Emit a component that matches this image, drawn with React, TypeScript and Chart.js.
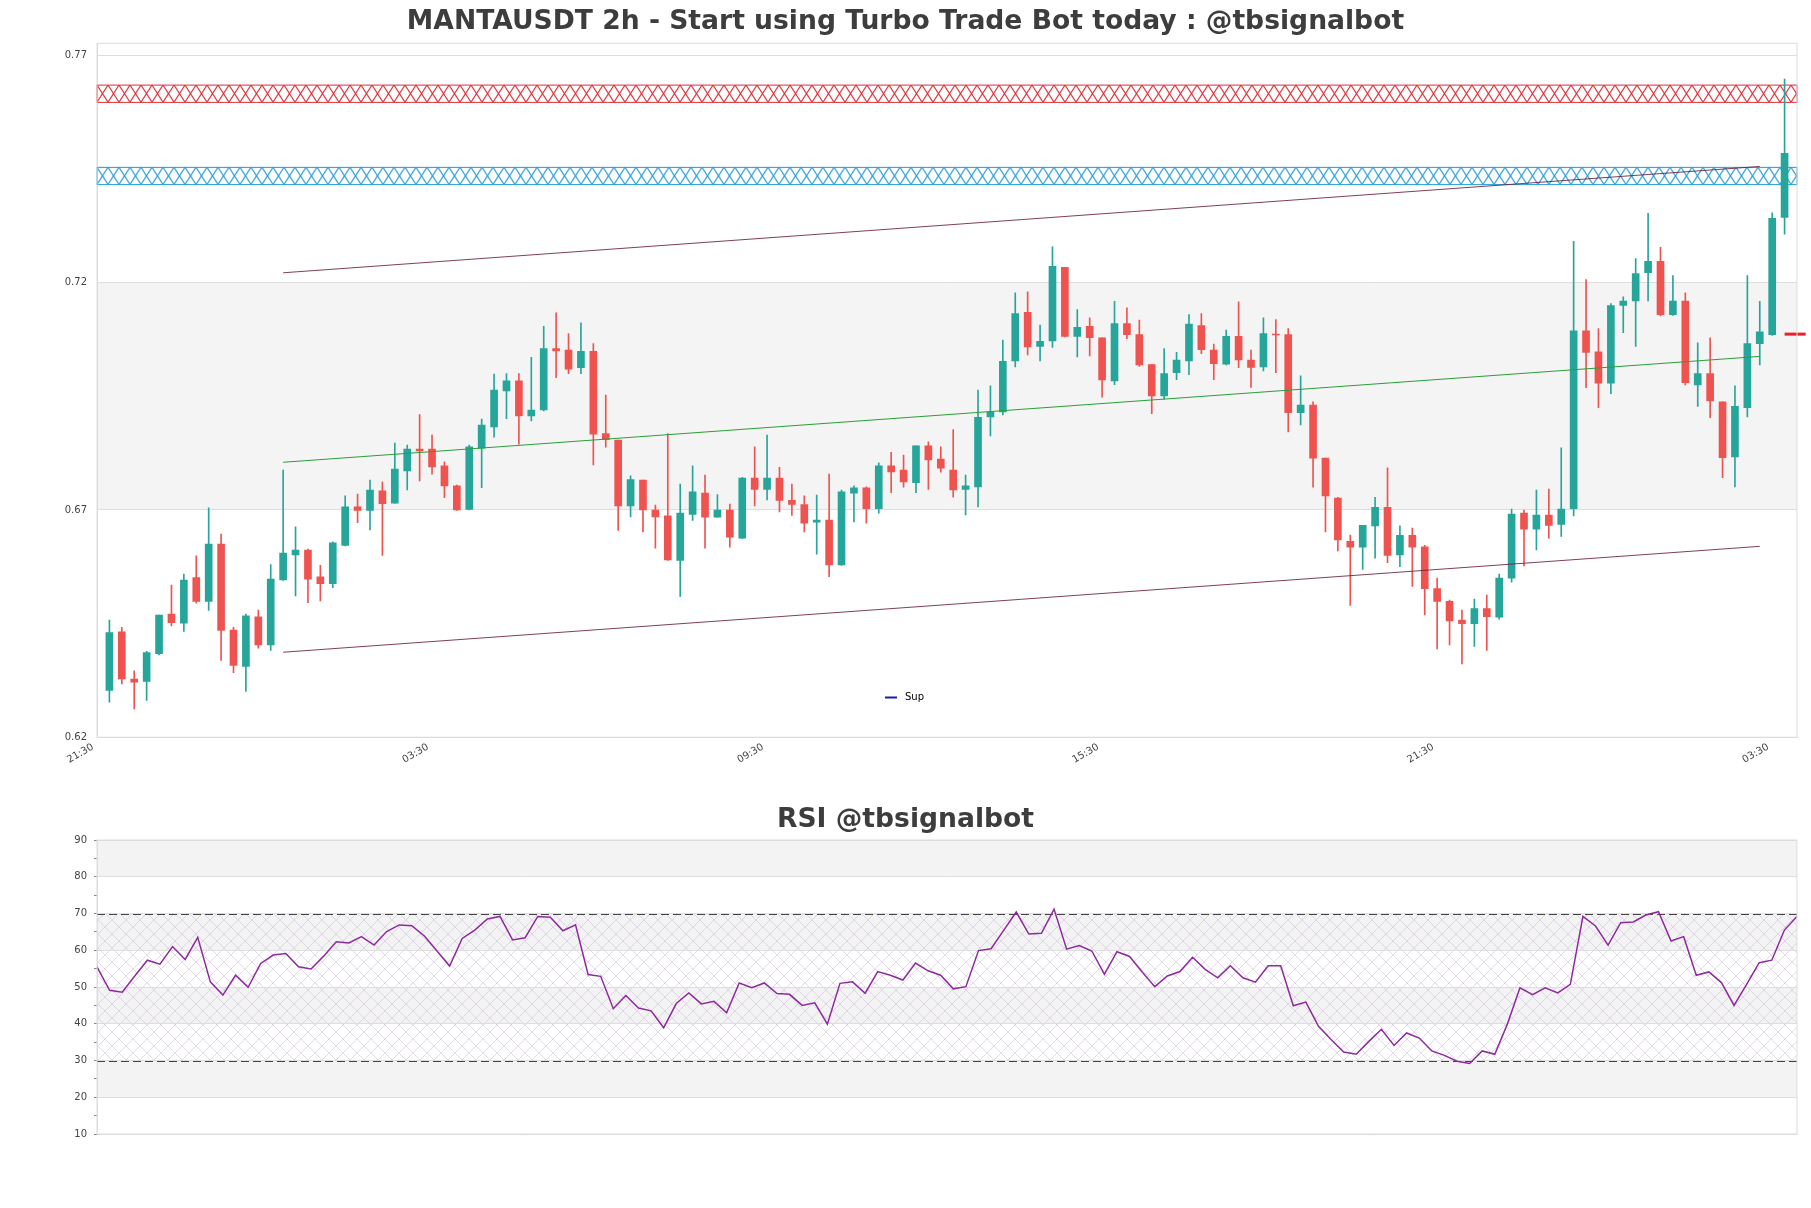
import React, { useEffect, useRef } from 'react';
import { Chart, registerables } from 'chart.js';

Chart.register(...registerables);

// ---------------- DATA ----------------
const opens = [
  0.6303, 0.6432, 0.6328, 0.6323, 0.6384, 0.6471, 0.6451, 0.6551, 0.6499, 0.6625,
  0.6436, 0.6356, 0.6465, 0.6403, 0.6546, 0.6601, 0.6612, 0.6553, 0.6538, 0.6622,
  0.6707, 0.6699, 0.6742, 0.6715, 0.6786, 0.6834, 0.6834, 0.6797, 0.6753, 0.6701,
  0.6836, 0.6883, 0.6962, 0.6984, 0.6907, 0.6920, 0.7055, 0.7052, 0.7013, 0.7049,
  0.6868, 0.6854, 0.6709, 0.6766, 0.6700, 0.6687, 0.6589, 0.6690, 0.6737, 0.6684,
  0.6700, 0.6638, 0.6770, 0.6745, 0.6770, 0.6721, 0.6712, 0.6673, 0.6678, 0.6579,
  0.6737, 0.6749, 0.6703, 0.6797, 0.6788, 0.6760, 0.6841, 0.6812, 0.6788, 0.6745,
  0.6751, 0.6905, 0.6916, 0.7028, 0.7135, 0.7060, 0.7072, 0.7234, 0.7082, 0.7104,
  0.7079, 0.6984, 0.7110, 0.7086, 0.7020, 0.6951, 0.7002, 0.7028, 0.7106, 0.7052,
  0.7021, 0.7082, 0.7030, 0.7015, 0.7087, 0.7086, 0.6914, 0.6931, 0.6814, 0.6726,
  0.6631, 0.6618, 0.6665, 0.6706, 0.6601, 0.6644, 0.6619, 0.6527, 0.6499, 0.6458,
  0.6450, 0.6483, 0.6464, 0.6550, 0.6693, 0.6658, 0.6689, 0.6668, 0.6703, 0.7094,
  0.7048, 0.6979, 0.7150, 0.7160, 0.7222, 0.7247, 0.7130, 0.7160, 0.6975, 0.7000,
  0.6938, 0.6817, 0.6925, 0.7066, 0.7086, 0.7344,
];
const highs = [
  0.6458, 0.6442, 0.6346, 0.6389, 0.6469, 0.6535, 0.6559, 0.6599, 0.6705, 0.6647,
  0.6442, 0.6471, 0.6480, 0.6580, 0.6788, 0.6663, 0.6614, 0.6578, 0.6630, 0.6731,
  0.6735, 0.6766, 0.6762, 0.6847, 0.6843, 0.6910, 0.6865, 0.6806, 0.6755, 0.6843,
  0.6900, 0.6999, 0.7000, 0.7000, 0.7036, 0.7104, 0.7134, 0.7088, 0.7112, 0.7066,
  0.6953, 0.6854, 0.6775, 0.6766, 0.6711, 0.6868, 0.6757, 0.6797, 0.6777, 0.6734,
  0.6713, 0.6772, 0.6839, 0.6865, 0.6794, 0.6757, 0.6731, 0.6733, 0.6779, 0.6744,
  0.6753, 0.6751, 0.6804, 0.6827, 0.6821, 0.6841, 0.6850, 0.6839, 0.6877, 0.6777,
  0.6964, 0.6973, 0.7074, 0.7178, 0.7180, 0.7107, 0.7279, 0.7234, 0.7141, 0.7123,
  0.7079, 0.7159, 0.7145, 0.7118, 0.7020, 0.7055, 0.7047, 0.7130, 0.7132, 0.7065,
  0.7096, 0.7158, 0.7052, 0.7123, 0.7119, 0.7099, 0.6995, 0.6938, 0.6814, 0.6728,
  0.6645, 0.6666, 0.6728, 0.6793, 0.6665, 0.6660, 0.6622, 0.6550, 0.6502, 0.6480,
  0.6504, 0.6513, 0.6559, 0.6702, 0.6700, 0.6744, 0.6746, 0.6837, 0.7291, 0.7207,
  0.7099, 0.7154, 0.7169, 0.7253, 0.7353, 0.7278, 0.7216, 0.7178, 0.7068, 0.7079,
  0.6938, 0.6973, 0.7216, 0.7159, 0.7354, 0.7648,
];
const lows = [
  0.6277, 0.6317, 0.6262, 0.6281, 0.6381, 0.6445, 0.6433, 0.6495, 0.6479, 0.6369,
  0.6342, 0.6301, 0.6396, 0.6391, 0.6545, 0.6511, 0.6496, 0.6500, 0.6529, 0.6621,
  0.6672, 0.6656, 0.6600, 0.6715, 0.6744, 0.6764, 0.6779, 0.6727, 0.6699, 0.6700,
  0.6749, 0.6860, 0.6901, 0.6845, 0.6896, 0.6918, 0.6991, 0.7000, 0.7000, 0.6799,
  0.6838, 0.6655, 0.6685, 0.6652, 0.6616, 0.6589, 0.6510, 0.6677, 0.6616, 0.6684,
  0.6618, 0.6637, 0.6709, 0.6722, 0.6696, 0.6688, 0.6652, 0.6603, 0.6553, 0.6578,
  0.6674, 0.6671, 0.6693, 0.6738, 0.6750, 0.6738, 0.6745, 0.6783, 0.6728, 0.6689,
  0.6707, 0.6863, 0.6909, 0.7015, 0.7041, 0.7028, 0.7058, 0.7081, 0.7037, 0.7039,
  0.6948, 0.6976, 0.7077, 0.7016, 0.6912, 0.6944, 0.6987, 0.6998, 0.7044, 0.6987,
  0.7019, 0.7013, 0.6970, 0.7006, 0.7002, 0.6872, 0.6887, 0.6750, 0.6652, 0.6610,
  0.6490, 0.6569, 0.6594, 0.6584, 0.6575, 0.6532, 0.6469, 0.6394, 0.6403, 0.6361,
  0.6400, 0.6391, 0.6460, 0.6541, 0.6577, 0.6612, 0.6638, 0.6642, 0.6687, 0.6969,
  0.6925, 0.6956, 0.7090, 0.7060, 0.7160, 0.7127, 0.7128, 0.6975, 0.6928, 0.6903,
  0.6771, 0.6751, 0.6905, 0.7019, 0.7084, 0.7307,
];
const closes = [
  0.6430, 0.6328, 0.6321, 0.6386, 0.6469, 0.6452, 0.6546, 0.6499, 0.6625, 0.6435,
  0.6358, 0.6467, 0.6403, 0.6548, 0.6605, 0.6612, 0.6548, 0.6538, 0.6628, 0.6707,
  0.6699, 0.6744, 0.6714, 0.6790, 0.6834, 0.6830, 0.6795, 0.6753, 0.6700, 0.6839,
  0.6887, 0.6964, 0.6984, 0.6907, 0.6920, 0.7055, 0.7050, 0.7010, 0.7049, 0.6867,
  0.6855, 0.6709, 0.6767, 0.6700, 0.6685, 0.6590, 0.6693, 0.6740, 0.6684, 0.6700,
  0.6640, 0.6770, 0.6745, 0.6770, 0.6721, 0.6712, 0.6671, 0.6678, 0.6579, 0.6740,
  0.6749, 0.6703, 0.6797, 0.6784, 0.6762, 0.6841, 0.6810, 0.6792, 0.6744, 0.6753,
  0.6904, 0.6916, 0.7027, 0.7132, 0.7059, 0.7071, 0.7236, 0.7082, 0.7102, 0.7079,
  0.6986, 0.7110, 0.7086, 0.7019, 0.6951, 0.7000, 0.7030, 0.7109, 0.7053, 0.7022,
  0.7082, 0.7030, 0.7014, 0.7088, 0.7085, 0.6914, 0.6931, 0.6814, 0.6731, 0.6634,
  0.6618, 0.6666, 0.6706, 0.6600, 0.6644, 0.6618, 0.6527, 0.6499, 0.6456, 0.6450,
  0.6483, 0.6465, 0.6550, 0.6691, 0.6658, 0.6689, 0.6666, 0.6702, 0.7094, 0.7047,
  0.6979, 0.7150, 0.7160, 0.7220, 0.7247, 0.7130, 0.7160, 0.6980, 0.7000, 0.6940,
  0.6815, 0.6928, 0.7066, 0.7092, 0.7342, 0.7485,
];

const rsiValues = [
  55.5, 49.1, 48.6, 53.0, 57.3, 56.2, 61.0, 57.5, 63.5, 51.4,
  47.8, 53.2, 49.9, 56.4, 58.7, 59.1, 55.5, 54.9, 58.4, 62.3,
  62.0, 63.7, 61.4, 65.1, 66.9, 66.7, 63.9, 59.8, 55.7, 63.2,
  65.5, 68.5, 69.2, 62.8, 63.4, 69.2, 69.0, 65.3, 66.9, 53.4,
  52.9, 44.1, 47.7, 44.3, 43.5, 38.9, 45.5, 48.4, 45.4, 46.1,
  43.0, 51.1, 49.8, 51.1, 48.2, 48.0, 45.0, 45.7, 39.9, 51.0,
  51.4, 48.3, 54.2, 53.2, 51.9, 56.5, 54.4, 53.2, 49.5, 50.1,
  59.9, 60.4, 65.4, 70.4, 64.4, 64.6, 71.2, 60.3, 61.3, 59.8,
  53.5, 59.6, 58.3, 54.1, 50.1, 53.0, 54.2, 58.1, 54.8, 52.5,
  55.8, 52.5, 51.3, 55.8, 55.8, 44.9, 45.9, 39.3, 35.7, 32.3,
  31.7, 35.2, 38.5, 34.1, 37.5, 36.1, 32.6, 31.4, 29.8, 29.2,
  32.6, 31.7, 39.9, 49.8, 47.9, 49.8, 48.4, 50.7, 69.2, 66.6,
  61.4, 67.5, 67.7, 69.6, 70.5, 62.5, 63.7, 53.2, 54.1, 51.2,
  45.0, 50.7, 56.6, 57.3, 65.5, 69.2,
];

const xTickPositions = [-1, 26, 53, 80, 107, 134];
const xTickLabels = ['21:30', '03:30', '09:30', '15:30', '21:30', '03:30'];
const priceTicks = [0.62, 0.67, 0.72, 0.77];
const rsiTicks = [10, 15, 20, 25, 30, 35, 40, 45, 50, 55, 60, 65, 70, 75, 80, 85, 90];

const upperLineIdx = [14, 133];
const upperLineVal = [0.7222, 0.7456];
const midLineIdx = [14, 133];
const midLineVal = [0.6805, 0.7038];
const lowerLineIdx = [14, 133];
const lowerLineVal = [0.6387, 0.662];
const priceMarkerIdx = [135, 136.7];
const priceMarkerVal = [0.7087, 0.7087];

const resistanceZone = [0.7597, 0.7635];
const supportZone = [0.7416, 0.7454];
const shadedBand = [0.67, 0.72];
const rsiGrayBands = [[80, 90], [60, 70], [40, 50], [20, 30]];
const rsiHatchBand = [30, 70];
const rsiLevels = [70, 30];

const mainTitle = 'MANTAUSDT 2h - Start using Turbo Trade Bot today : @tbsignalbot';
const rsiTitle = 'RSI @tbsignalbot';
const legendLabel = 'Sup';

// ---------------- STYLE ----------------
const UP = '#26a69a';
const DOWN = '#ef5350';
const FONT = "'DejaVu Sans', 'Liberation Sans', sans-serif";
const TITLE_FONT = `bold 26.6px ${FONT}`;
const W = 1811;
const MAIN_H = 780;
const RSI_H = 428;

function hatch(ctx: CanvasRenderingContext2D, color: string, w: number, h: number, lw: number) {
  const c = document.createElement('canvas');
  c.width = Math.max(1, Math.round(w));
  c.height = Math.max(1, Math.round(h));
  const g = c.getContext('2d')!;
  g.strokeStyle = color;
  g.lineWidth = lw;
  g.beginPath();
  g.moveTo(0, 0);
  g.lineTo(c.width, c.height);
  g.moveTo(c.width, 0);
  g.lineTo(0, c.height);
  g.stroke();
  return ctx.createPattern(c, 'repeat')!;
}

function drawZone(chart: any, range: number[], color: string) {
  const { ctx, chartArea: a, scales } = chart;
  const y = scales.y;
  const top = y.getPixelForValue(range[1]);
  const bot = y.getPixelForValue(range[0]);
  ctx.save();
  const pat = hatch(ctx, color, 11, bot - top, 1.2);
  if ((pat as any).setTransform) {
    (pat as any).setTransform(new DOMMatrix().translate(a.left, top));
  }
  ctx.fillStyle = pat;
  ctx.fillRect(a.left, top, a.right - a.left, bot - top);
  ctx.strokeStyle = color;
  ctx.lineWidth = 1;
  ctx.strokeRect(a.left, top, a.right - a.left, bot - top);
  ctx.restore();
}

const mainDecor = {
  id: 'mainDecor',
  beforeDraw(chart: any) {
    const { ctx, chartArea: a, scales } = chart;
    ctx.save();
    ctx.fillStyle = '#ffffff';
    ctx.fillRect(0, 0, chart.width, chart.height);
    const y1 = scales.y.getPixelForValue(shadedBand[1]);
    const y0 = scales.y.getPixelForValue(shadedBand[0]);
    ctx.fillStyle = '#f4f4f4';
    ctx.fillRect(a.left, y1, a.right - a.left, y0 - y1);
    ctx.restore();
  },
  beforeDatasetsDraw(chart: any) {
    drawZone(chart, resistanceZone, '#dc2f35');
    drawZone(chart, supportZone, '#2299d6');
  },
  afterDraw(chart: any) {
    const { ctx, chartArea: a } = chart;
    ctx.save();
    ctx.strokeStyle = '#dddddd';
    ctx.lineWidth = 1;
    ctx.strokeRect(a.left, a.top, a.right - a.left, a.bottom - a.top);
    ctx.fillStyle = '#3d3d3d';
    ctx.font = TITLE_FONT;
    ctx.textAlign = 'center';
    ctx.textBaseline = 'middle';
    ctx.fillText(mainTitle, W / 2, 22);
    // legend
    ctx.strokeStyle = '#1a1ab0';
    ctx.lineWidth = 2;
    ctx.beginPath();
    ctx.moveTo(885, 697.5);
    ctx.lineTo(897, 697.5);
    ctx.stroke();
    ctx.fillStyle = '#000000';
    ctx.font = `10px ${FONT}`;
    ctx.textAlign = 'left';
    ctx.fillText(legendLabel, 905, 697);
    ctx.restore();
  },
};

const rsiDecor = {
  id: 'rsiDecor',
  beforeDraw(chart: any) {
    const { ctx, chartArea: a, scales } = chart;
    const y = scales.y;
    ctx.save();
    ctx.fillStyle = '#ffffff';
    ctx.fillRect(0, 0, chart.width, chart.height);
    ctx.fillStyle = '#f3f3f3';
    rsiGrayBands.forEach((b) => {
      const t = y.getPixelForValue(b[1]);
      const btm = y.getPixelForValue(b[0]);
      ctx.fillRect(a.left, t, a.right - a.left, btm - t);
    });
    const t = y.getPixelForValue(rsiHatchBand[1]);
    const btm = y.getPixelForValue(rsiHatchBand[0]);
    const pat = hatch(ctx, 'rgba(205,190,220,0.7)', 14, 14, 0.8);
    ctx.fillStyle = pat;
    ctx.fillRect(a.left, t, a.right - a.left, btm - t);
    ctx.restore();
  },
  beforeDatasetsDraw(chart: any) {
    const { ctx, chartArea: a, scales } = chart;
    ctx.save();
    ctx.strokeStyle = '#444444';
    ctx.lineWidth = 1.2;
    ctx.setLineDash([8, 4]);
    rsiLevels.forEach((lv) => {
      const py = Math.round(scales.y.getPixelForValue(lv)) + 0.5;
      ctx.beginPath();
      ctx.moveTo(a.left, py);
      ctx.lineTo(a.right, py);
      ctx.stroke();
    });
    ctx.restore();
  },
  afterDraw(chart: any) {
    const { ctx, chartArea: a } = chart;
    ctx.save();
    ctx.strokeStyle = '#dddddd';
    ctx.lineWidth = 1;
    ctx.strokeRect(a.left, a.top, a.right - a.left, a.bottom - a.top);
    ctx.fillStyle = '#3d3d3d';
    ctx.font = TITLE_FONT;
    ctx.textAlign = 'center';
    ctx.textBaseline = 'middle';
    ctx.fillText(rsiTitle, W / 2, 40);
    ctx.restore();
  },
};

function line(idx: number[], val: number[], color: string, width: number, extra: any = {}) {
  return {
    type: 'line',
    data: idx.map((x, i) => ({ x, y: val[i] })),
    borderColor: color,
    backgroundColor: color,
    borderWidth: width,
    pointRadius: 0,
    fill: false,
    tension: 0,
    order: 0,
    ...extra,
  };
}

export default function App() {
  const mainRef = useRef<HTMLCanvasElement>(null);
  const rsiRef = useRef<HTMLCanvasElement>(null);

  useEffect(() => {
    Chart.defaults.font.family = FONT;
    Chart.defaults.font.size = 10;
    Chart.defaults.color = '#444444';

    const colors = opens.map((o, i) => (closes[i] >= o ? UP : DOWN));

    const main = new Chart(mainRef.current!, {
      type: 'bar',
      data: {
        datasets: [
          {
            type: 'bar',
            data: opens.map((o, i) => ({ x: i, y: [o, closes[i]] })),
            backgroundColor: colors,
            barThickness: 7,
            grouped: false,
            minBarLength: 1,
            order: 1,
          },
          {
            type: 'bar',
            data: lows.map((l, i) => ({ x: i, y: [l, highs[i]] })),
            backgroundColor: colors,
            barThickness: 1,
            grouped: false,
            order: 2,
          },
          line(upperLineIdx, upperLineVal, 'rgba(105,30,55,0.85)', 1),
          line(midLineIdx, midLineVal, '#27a038', 1),
          line(lowerLineIdx, lowerLineVal, 'rgba(105,30,55,0.85)', 1),
          line(priceMarkerIdx, priceMarkerVal, '#e8202a', 3, { clip: false }),
        ] as any,
      },
      options: {
        responsive: false,
        animation: false,
        devicePixelRatio: 1,
        events: [],
        layout: { padding: { top: 43.3, right: 14, left: 0, bottom: 0 } },
        plugins: { legend: { display: false }, tooltip: { enabled: false }, title: { display: false } },
        scales: {
          x: {
            type: 'linear',
            min: -1,
            max: 136,
            offset: false,
            grid: { display: false, offset: false },
            border: { display: true, color: '#dddddd' },
            ticks: {
              autoSkip: false,
              minRotation: 30,
              maxRotation: 30,
              padding: -4,
              labelOffset: -4,
              color: '#444444',
              font: { size: 10 },
              callback: (_v: any, i: number) => xTickLabels[i],
            },
            afterBuildTicks: (axis: any) => {
              axis.ticks = xTickPositions.map((v) => ({ value: v }));
            },
            afterFit: (axis: any) => {
              axis.height = MAIN_H - 737.2;
            },
          },
          y: {
            type: 'linear',
            min: 0.62,
            max: 0.7727,
            grid: { color: '#dddddd', drawTicks: false },
            border: { display: true, color: '#dddddd' },
            ticks: {
              padding: 10,
              color: '#444444',
              font: { size: 10 },
              callback: (v: any) => Number(v).toFixed(2),
            },
            afterBuildTicks: (axis: any) => {
              axis.ticks = priceTicks.map((v) => ({ value: v }));
            },
            afterFit: (axis: any) => {
              axis.width = 97;
            },
          },
        },
      } as any,
      plugins: [mainDecor],
    });

    const rsi = new Chart(rsiRef.current!, {
      type: 'line',
      data: {
        datasets: [
          {
            data: rsiValues.map((v, i) => ({ x: i, y: v })),
            borderColor: '#8e2a9e',
            borderWidth: 1.5,
            pointRadius: 0,
            fill: false,
            tension: 0,
          },
        ],
      },
      options: {
        responsive: false,
        animation: false,
        devicePixelRatio: 1,
        events: [],
        layout: { padding: { top: 60, right: 14, left: 0, bottom: 74 } },
        plugins: { legend: { display: false }, tooltip: { enabled: false }, title: { display: false } },
        scales: {
          x: { type: 'linear', min: 0, max: rsiValues.length - 1, display: false },
          y: {
            type: 'linear',
            min: 10,
            max: 90,
            grid: {
              color: (c: any) => (c.tick && c.tick.value % 10 === 0 ? '#dddddd' : 'rgba(0,0,0,0)'),
              tickColor: '#888888',
              tickLength: 3,
              drawTicks: true,
            },
            border: { display: true, color: '#dddddd' },
            ticks: {
              autoSkip: false,
              padding: 7,
              color: '#444444',
              font: { size: 10 },
              callback: (v: any) => (Number(v) % 10 === 0 ? String(v) : ''),
            },
            afterBuildTicks: (axis: any) => {
              axis.ticks = rsiTicks.map((v) => ({ value: v }));
            },
            afterFit: (axis: any) => {
              axis.width = 97;
            },
          },
        },
      } as any,
      plugins: [rsiDecor],
    });

    return () => {
      main.destroy();
      rsi.destroy();
    };
  }, []);

  return (
    <div
      style={{
        position: 'absolute',
        left: 0,
        top: 0,
        width: W,
        height: MAIN_H + RSI_H,
        background: '#ffffff',
        overflow: 'hidden',
      }}
    >
      <canvas ref={mainRef} width={W} height={MAIN_H} style={{ position: 'absolute', left: 0, top: 0 }} />
      <canvas ref={rsiRef} width={W} height={RSI_H} style={{ position: 'absolute', left: 0, top: MAIN_H }} />
    </div>
  );
}
